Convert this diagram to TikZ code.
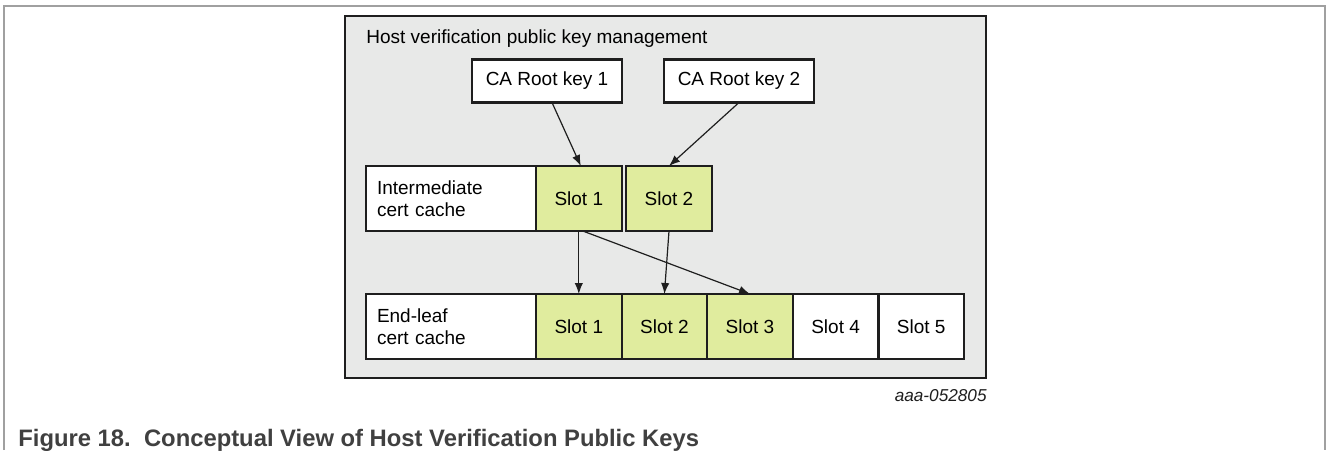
\documentclass[tikz,border=0pt]{standalone}
\usepackage{fontspec}
\setmainfont{Liberation Sans}
\usepackage{tikz}
\usetikzlibrary{arrows.meta,calc,positioning}
\definecolor{panelgray}{HTML}{E8E9E8}
\definecolor{slotgreen}{HTML}{E0EC9E}
\definecolor{capgray}{HTML}{404040}
\definecolor{framegray}{HTML}{A0A0A0}
\definecolor{edgeblack}{HTML}{1E1E1E}
\tikzset{
  boxfont/.style={font=\fontsize{9.5}{11}\selectfont},
  keybox/.style={draw=edgeblack, line width=1.1pt, fill=white, minimum width=75pt, minimum height=21.5pt, inner sep=0pt, outer sep=0pt, boxfont},
  cachebox/.style={draw=edgeblack, line width=1.1pt, fill=white, minimum height=32.5pt, text width=74pt, inner xsep=5.5pt, align=left, outer sep=0pt, boxfont},
  slotbox/.style={draw=edgeblack, line width=1.1pt, fill=slotgreen, minimum width=42.8pt, minimum height=32.5pt, inner sep=0pt, outer sep=0pt, boxfont},
  freeslot/.style={slotbox, fill=white},
  link/.style={-{Latex[length=5.5pt,width=4.2pt]}, line width=0.6pt, edgeblack}
}

\begin{document}
\begin{tikzpicture}[x=0.5pt,y=-0.5pt]
\useasboundingbox (0,0) rectangle (1328,450);
\draw[framegray, line width=1pt] (4,450) -- (4,6) -- (1325,6) -- (1325,450);

\node[draw=edgeblack, fill=panelgray, line width=1pt, minimum width=320.5pt, minimum height=181pt, outer sep=0pt] (mgmt) at (665.5,197) {};
\node[anchor=base west, inner sep=0pt, boxfont] (title) at (366,43) {Host verification public key management};

\node[keybox] (ca1) at (547,81) {CA Root key 1};
\node[keybox] (ca2) at (739,81) {CA Root key 2};

\node[cachebox] (inter) at (451,198.5) {Intermediate\\cert cache};
\node[slotbox, right=0pt of inter] (inter1) {Slot 1};
\node[slotbox] (inter2) at (669,198.5) {Slot 2};

\node[cachebox] (leaf) at (451,326.5) {End-leaf\\cert cache};
\node[slotbox, right=0pt of leaf] (leaf1) {Slot 1};
\node[slotbox, right=0pt of leaf1] (leaf2) {Slot 2};
\node[slotbox, right=0pt of leaf2] (leaf3) {Slot 3};
\node[freeslot, right=0pt of leaf3] (leaf4) {Slot 4};
\node[freeslot, right=0pt of leaf4] (leaf5) {Slot 5};

\draw[link] ($(ca1.south)+(5,0)$) -- ($(inter1.north)+(2,0)$);
\draw[link] (ca2.south) -- (inter2.north);
\draw[link] (inter1.south) -- (leaf1.north);
\draw[link] ($(inter1.south)+(4,0)$) -- (leaf3.north);
\draw[link] (inter2.south) -- (leaf2.north);

\node[anchor=base east, inner sep=0pt, font=\fontsize{8.6}{10}\selectfont\itshape, text=edgeblack] (tag) at (987,401) {aaa-052805};
\node[anchor=base west, inner sep=0pt, font=\fontsize{11.9}{14}\selectfont\bfseries, text=capgray] (caption) at (18,446.5) {Figure 18.\ \ Conceptual View of Host Verification Public Keys};
\end{tikzpicture}
\end{document}
